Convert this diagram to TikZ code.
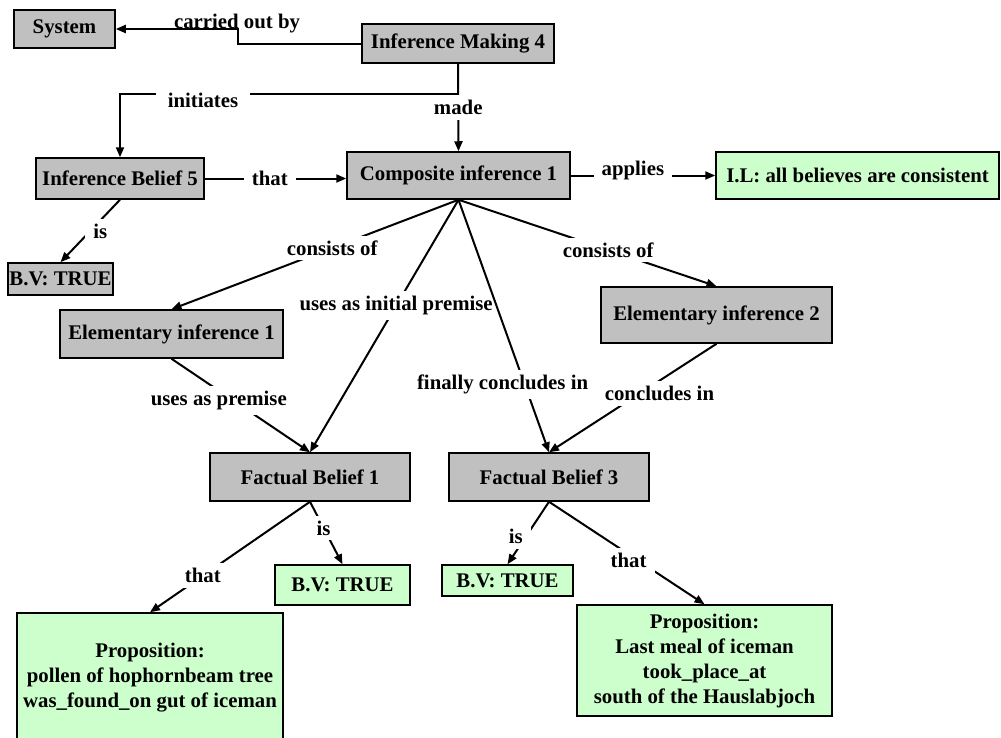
\documentclass[tikz,border=0pt]{standalone}
\usepackage{fontspec}
\setmainfont{Liberation Serif}
\definecolor{boxgray}{RGB}{192,192,192}
\definecolor{boxgreen}{RGB}{204,255,204}
\usetikzlibrary{arrows.meta,positioning,calc}
\newcommand{\mapfont}{\fontsize{20.8}{25}\selectfont\bfseries}
\tikzset{
  concept/.style={draw=black, line width=1.5pt, fill=boxgray, inner sep=0pt,
                  font=\mapfont, align=center},
  value/.style={concept, fill=boxgreen},
  rel/.style={fill=white, inner xsep=8pt, inner ysep=5pt, font=\mapfont},
  flow/.style={-{Triangle[length=10pt,width=8pt]}, line width=2pt},
}

\begin{document}
\begin{tikzpicture}[x=1pt,y=-1pt]
    \useasboundingbox (0,0) rectangle (1001,737);
    % concepts
    \node[concept,minimum width=101pt,minimum height=38pt] (sys)     at (64.5,29)   {System};
    \node[concept,minimum width=192pt,minimum height=39pt] (make)    at (458,43.5)  {Inference Making 4};
    \node[concept,minimum width=168pt,minimum height=41pt] (belief5) at (120,178.5) {Inference Belief 5};
    \node[concept,minimum width=223pt,minimum height=47pt] (comp)    at (458.5,175.5) {Composite inference 1};
    \node[value,minimum width=283pt,minimum height=47pt]   (il)      at (857.5,175.5) {I.L: all believes are consistent};
    \node[concept,minimum width=105pt,minimum height=32pt] (bvA)     at (60.5,279)  {B.V: TRUE};
    \node[concept,minimum width=223pt,minimum height=48pt] (elem1)   at (171.5,334) {Elementary inference 1};
    \node[concept,minimum width=231pt,minimum height=56pt] (elem2)   at (716.5,315) {Elementary inference 2};
    \node[concept,minimum width=200pt,minimum height=48pt] (fact1)   at (310,477)   {Factual Belief 1};
    \node[concept,minimum width=200pt,minimum height=48pt] (fact3)   at (549,477)   {Factual Belief 3};
    \node[value,minimum width=135pt,minimum height=40pt]   (bvB)     at (342.5,585) {B.V: TRUE};
    \node[value,minimum width=131pt,minimum height=31pt]   (bvC)     at (507.5,580.5) {B.V: TRUE};
    \node[value,minimum width=266pt,minimum height=130pt]  (propA)   at (150,678)
      {Proposition:\\pollen of hophornbeam tree\\was\_found\_on gut of iceman};
    \node[value,minimum width=255pt,minimum height=111pt]  (propB)   at (704.5,660.5)
      {Proposition:\\Last meal of iceman\\took\_place\_at\\south of the Hauslabjoch};
    % relations
    \draw[flow] (make.west) -- ++(-123,0) |- (sys.east);
    \node[rel,fill=none,anchor=base,inner sep=0pt] (r-carried) at (237,28) {carried out by};
    \draw[flow] (make.south) -- ++(0,30) -| (belief5.north);
    \node[rel,inner xsep=12pt] (r-initiates) at (203,100) {initiates};
    \draw[flow] (make.south) -- node[rel,pos=0.5] (r-made) {made} (comp.north);
    \draw[flow] (belief5.east) -- node[rel,pos=0.46] (r-that1) {that} (belief5.east -| comp.west);
    \draw[flow] (comp.east) -- node[rel,pos=0.43,yshift=5pt] (r-applies) {applies} (il.west);
    \draw[flow] (belief5.south) -- node[rel,pos=0.5,xshift=10pt] (r-is1) {is} (bvA.north);
    \draw[flow] (comp.south) -- node[rel,pos=0.44] (r-cons1) {consists of} (elem1.north);
    \draw[flow] (comp.south) -- node[rel,pos=0.58] (r-cons2) {consists of} (elem2.north);
    \draw[flow] (comp.south) -- node[rel,pos=0.42,inner xsep=2pt] (r-initial) {uses as initial premise} (fact1.north);
    \draw[flow] (comp.south) -- node[rel,pos=0.73,xshift=-22pt] (r-finally) {finally concludes in} (fact3.north);
    \draw[flow] (elem1.south) -- node[rel,pos=0.45,xshift=-15pt] (r-premise) {uses as premise} (fact1.north);
    \draw[flow] (elem2.south) -- node[rel,pos=0.46,xshift=20pt] (r-concl) {concludes in} (fact3.north);
    \draw[flow] (fact1.south) -- node[rel,pos=0.67] (r-that2) {that} (propA.north);
    \draw[flow] (fact1.south) -- node[rel,pos=0.42] (r-is2) {is} (bvB.north);
    \draw[flow] (fact3.south) -- node[rel,pos=0.56,xshift=-10pt] (r-is3) {is} (bvC.north);
    \draw[flow] (fact3.south) -- node[rel,pos=0.57,xshift=-9pt] (r-that3) {that} (propB.north);
\end{tikzpicture}
\end{document}
